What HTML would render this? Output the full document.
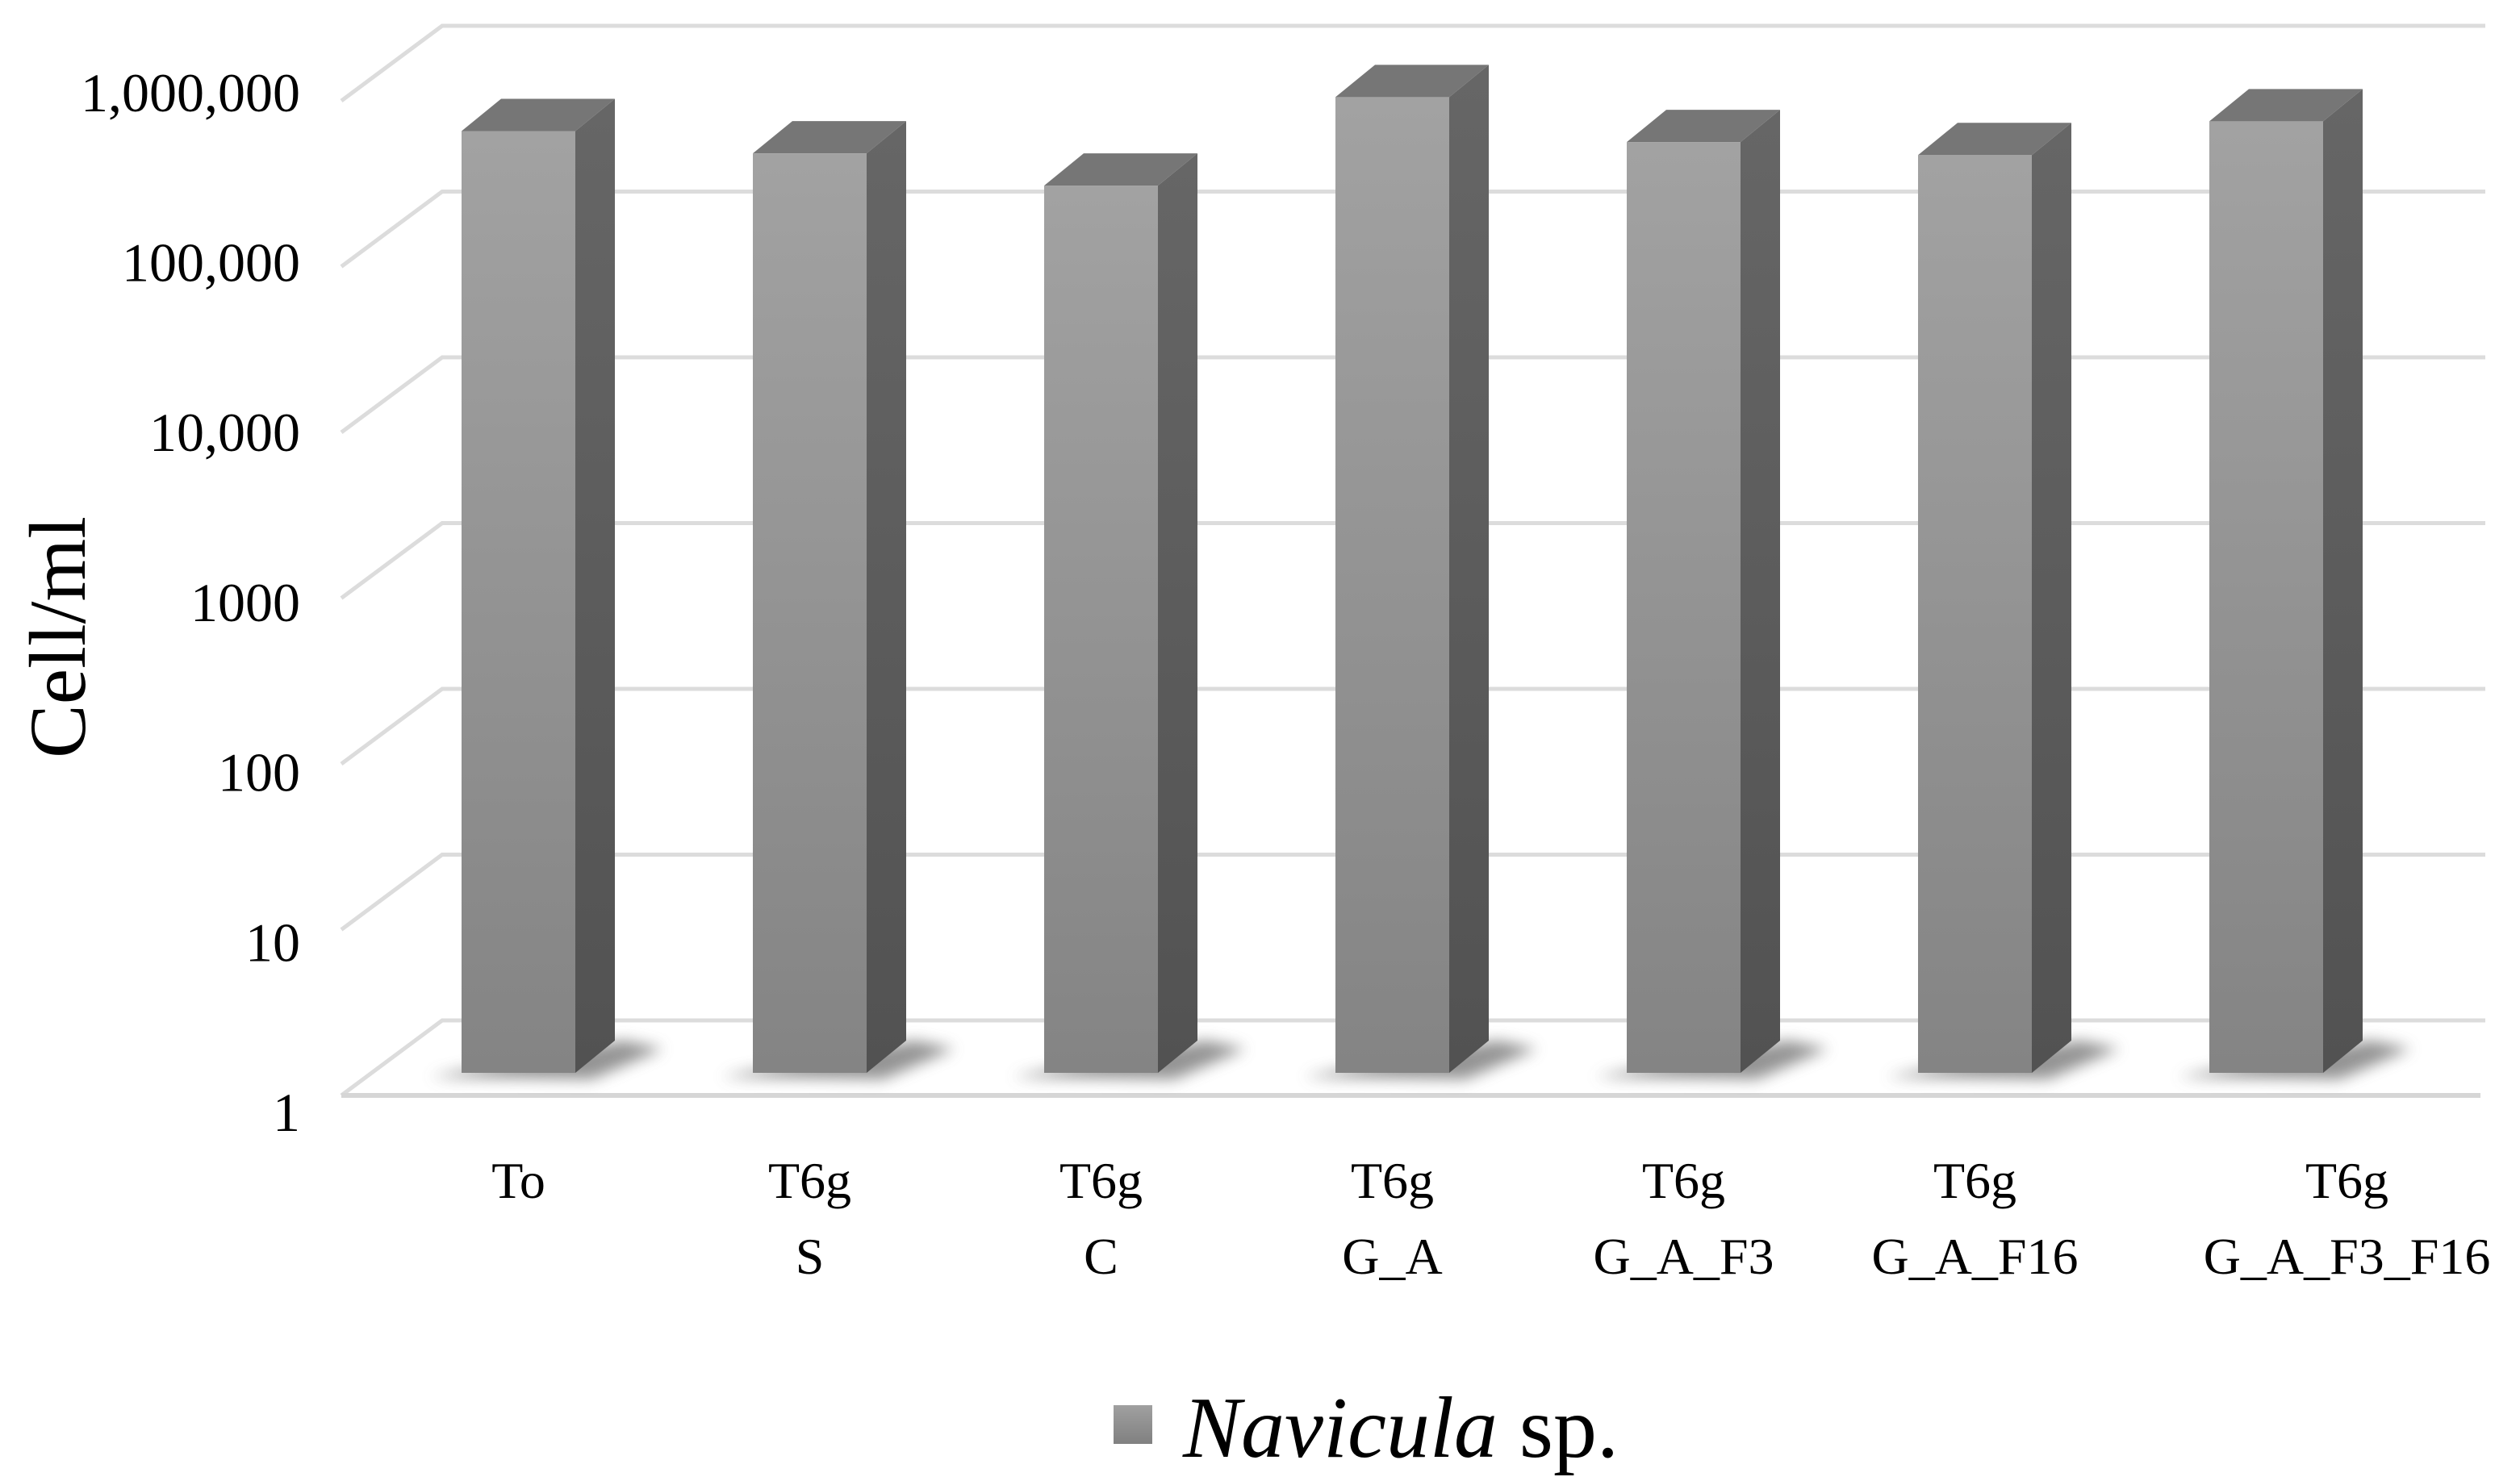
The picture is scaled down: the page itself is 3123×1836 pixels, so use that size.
<!DOCTYPE html>
<html><head><meta charset="utf-8"><style>
html,body{margin:0;padding:0;background:#fff;}
svg{display:block;}
text{font-family:"Liberation Serif",serif;fill:#000;}
</style></head><body>
<svg id="chart" width="3123" height="1836" viewBox="0 0 3123 1836" xmlns="http://www.w3.org/2000/svg">
<defs>
<linearGradient id="gFront" x1="0" y1="0" x2="0" y2="1"><stop offset="0" stop-color="#a2a2a2"/><stop offset="1" stop-color="#848484"/></linearGradient>
<linearGradient id="gSide" x1="0" y1="0" x2="0" y2="1"><stop offset="0" stop-color="#666"/><stop offset="1" stop-color="#525252"/></linearGradient>
<linearGradient id="gLeg" x1="0" y1="0" x2="0" y2="1"><stop offset="0" stop-color="#a0a0a0"/><stop offset="1" stop-color="#808080"/></linearGradient>
<filter id="blur" x="-50%" y="-50%" width="200%" height="200%"><feGaussianBlur stdDeviation="9"/></filter>
</defs>
<g id="grid"></g>
<g id="bars"></g>
<g id="yticks"></g>
<g id="xlabels"></g>
<text x="0" y="0" font-size="100" text-anchor="middle" transform="translate(105,790) rotate(-90)">Cell/ml</text>
<rect x="1380" y="1742" width="48" height="48" fill="url(#gLeg)"/>
<text x="1466" y="1806" font-size="108"><tspan font-style="italic">Navicula</tspan> sp.</text>
</svg>
<script>
const categories = [["To"],["T6g","S"],["T6g","C"],["T6g","G_A"],["T6g","G_A_F3"],["T6g","G_A_F16"],["T6g","G_A_F3_F16"]];
const values = [480000, 352000, 225000, 770000, 412000, 344000, 550000];
const tickValues = [1, 10, 100, 1000, 10000, 100000, 1000000];
const tickLabels = ["1","10","100","1000","10,000","100,000","1,000,000"];

const NS = "http://www.w3.org/2000/svg";
const backX0 = 548, backX1 = 3080, depthDx = -125, depthDy = 93;
const backFloorY = 1265, decade = 205.5;
function backY(v){ return backFloorY - decade*Math.log10(v); }
function barFrontY(v){ return 1330 - decade*Math.log10(v); }
function labelY(v){ return 1380 - 210.7*Math.log10(v); }
const barX0 = 572, pitch = 361, barW = 141, bdx = 49, bdy = -40;
function barX(i){ return barX0 + pitch*i; }
function mk(tag, attrs, parent){ const e=document.createElementNS(NS,tag); for(const k in attrs) e.setAttribute(k,attrs[k]); parent.appendChild(e); return e; }

const grid = document.getElementById('grid');
tickValues.forEach((v,i)=>{
  const y = backY(v);
  const p = mk('polyline',{points:`${backX0+depthDx},${y+depthDy} ${backX0},${y} ${backX1},${y}`,fill:'none',stroke:'#dcdcdc','stroke-width':5},grid);
  
  
});
const floor = mk('polyline',{points:`${backX0+depthDx},${backFloorY+depthDy} ${backX1-6},${backFloorY+depthDy}`,fill:'none',stroke:'#d6d6d6','stroke-width':6},grid);



const bars = document.getElementById('bars');
values.forEach((v,i)=>{
  const x = barX(i), yt = barFrontY(v), yb = 1330;
  const g = mk('g',{},bars);
  
  
  mk('path',{d:`M${x-40},${yb+5} L${x+barW+bdx+10},${yb-40} L${x+barW+bdx+60},${yb-30} L${x+barW+20},${yb+8} Z`,fill:'#666',filter:'url(#blur)',opacity:0.7},g);
  mk('rect',{x:x,y:yt,width:barW,height:yb-yt,fill:'url(#gFront)'},g);
  mk('path',{d:`M${x+barW},${yt} L${x+barW+bdx},${yt+bdy} L${x+barW+bdx},${yb+bdy} L${x+barW},${yb} Z`,fill:'url(#gSide)'},g);
  mk('path',{d:`M${x},${yt} L${x+bdx},${yt+bdy} L${x+barW+bdx},${yt+bdy} L${x+barW},${yt} Z`,fill:'#767676'},g);
});

const yt = document.getElementById('yticks');
tickValues.forEach((v,i)=>{
  const t = mk('text',{x:372,y:labelY(v)+22,'font-size':68,'text-anchor':'end'},yt);
  t.textContent = tickLabels[i];
  
  
});

const xl = document.getElementById('xlabels');
categories.forEach((c,i)=>{
  const cx = (i===categories.length-1) ? barX(i)+barW/2+100 : barX(i)+barW/2;
  c.forEach((line,j)=>{
    const t = mk('text',{x:cx,y:1485+j*94,'font-size':64,'text-anchor':'middle'},xl);
    t.textContent = line;
    
    
  });
});
</script>
</body></html>
